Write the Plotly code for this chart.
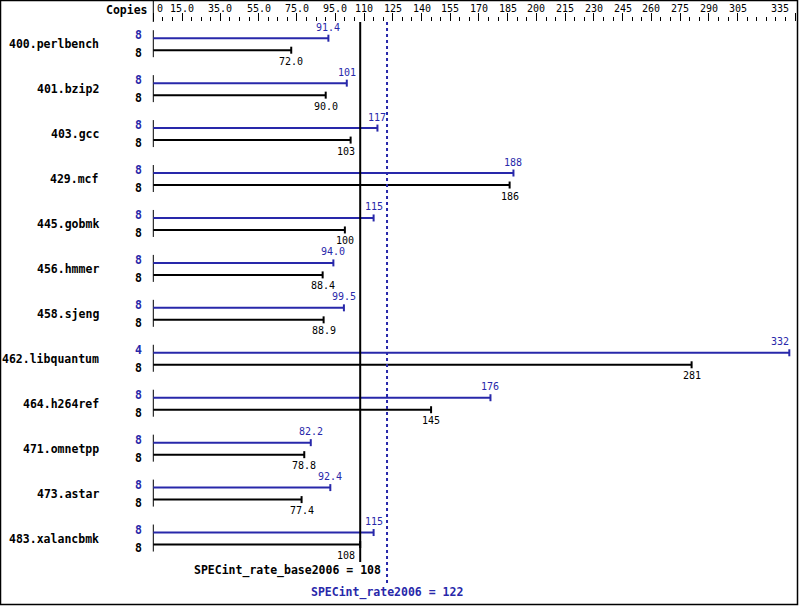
import plotly.graph_objects as go

# ---------------- data ----------------
benchmarks = ["400.perlbench", "401.bzip2", "403.gcc", "429.mcf", "445.gobmk",
              "456.hmmer", "458.sjeng", "462.libquantum", "464.h264ref",
              "471.omnetpp", "473.astar", "483.xalancbmk"]
peak_values = [91.4, 101, 117, 188, 115, 94.0, 99.5, 332, 176, 82.2, 92.4, 115]
base_values = [72.0, 90.0, 103, 186, 100, 88.4, 88.9, 281, 145, 78.8, 77.4, 108]
peak_copies = [8, 8, 8, 8, 8, 8, 8, 4, 8, 8, 8, 8]
base_copies = [8, 8, 8, 8, 8, 8, 8, 8, 8, 8, 8, 8]
tick_values = [0, 15, 35, 55, 75, 95, 110, 125, 140, 155, 170, 185, 200, 215,
               230, 245, 260, 275, 290, 305, 335]
tick_labels = ["0", "15.0", "35.0", "55.0", "75.0", "95.0", "110", "125", "140",
               "155", "170", "185", "200", "215", "230", "245", "260", "275",
               "290", "305", "335"]
minor_tick_values = list(range(5, 335, 5))
base_score = 108
peak_score = 122
base_label = "SPECint_rate_base2006 = 108"
peak_label = "SPECint_rate2006 = 122"

# ---------------- layout constants ----------------
W, H = 799, 606
TOP = 22
PX_PER_UNIT = 1.9157
X0_PX = 153.3
XMIN = -X0_PX / PX_PER_UNIT
XMAX = XMIN + W / PX_PER_UNIT
ROW_MID0 = 44.2
ROW_STEP = 44.94
HALF_GAP = 6.0
CAP = 3.5
BLUE = "#2828aa"
BLACK = "#000000"
MONO = "DejaVu Sans Mono"
CHAR_W = 6.0


def ypaper(py):
    return (H - py) / (H - TOP)


def xpaper(px):
    return px / W


def to_px(v):
    return X0_PX + v * PX_PER_UNIT


def fmt(v):
    return "%.1f" % v if v < 100 else "%d" % round(v)


n = len(benchmarks)
mids = [ROW_MID0 + i * ROW_STEP for i in range(n)]
peak_y = [m - HALF_GAP for m in mids]
base_y = [m + HALF_GAP for m in mids]

fig = go.Figure()


def segs(pairs):
    xs, ys = [], []
    for (xa, ya, xb, yb) in pairs:
        xs += [xa, xb, None]
        ys += [ya, yb, None]
    return xs, ys


# zero lines per row
xs, ys = segs([(0, peak_y[i] - 8, 0, base_y[i] + 7) for i in range(n)])
fig.add_trace(go.Scatter(x=xs, y=ys, mode="lines", line=dict(color=BLACK, width=1),
                         hoverinfo="skip", showlegend=False))

for vals, ypos, col in [(peak_values, peak_y, BLUE), (base_values, base_y, BLACK)]:
    xs, ys = segs([(0, ypos[i], vals[i], ypos[i]) for i in range(n)])
    fig.add_trace(go.Scatter(x=xs, y=ys, mode="lines", line=dict(color=col, width=2),
                             hoverinfo="skip", showlegend=False))
    xs, ys = segs([(vals[i], ypos[i] - CAP, vals[i], ypos[i] + CAP) for i in range(n)])
    fig.add_trace(go.Scatter(x=xs, y=ys, mode="lines", line=dict(color=col, width=2),
                             hoverinfo="skip", showlegend=False))

# score lines
fig.add_trace(go.Scatter(x=[base_score, base_score], y=[TOP, 562], mode="lines",
                         line=dict(color=BLACK, width=2), hoverinfo="skip", showlegend=False))
fig.add_trace(go.Scatter(x=[peak_score, peak_score], y=[TOP, 583], mode="lines",
                         line=dict(color=BLUE, width=2, dash="dot"), hoverinfo="skip",
                         showlegend=False))

ann = []
small = dict(family=MONO, size=10)
bold = dict(family=MONO, size=11.5)

for i in range(n):
    # benchmark names
    ann.append(dict(x=0, y=mids[i], xref="x", yref="y", text="<b>%s</b>" % benchmarks[i],
                    xanchor="right", yanchor="middle", xshift=-52, showarrow=False,
                    font=dict(bold, color=BLACK)))
    # copies
    ann.append(dict(x=0, y=peak_y[i] - 3, xref="x", yref="y", text="<b>%d</b>" % peak_copies[i],
                    xanchor="center", yanchor="middle", xshift=-15, showarrow=False,
                    font=dict(bold, color=BLUE)))
    ann.append(dict(x=0, y=base_y[i] + 3, xref="x", yref="y", text="<b>%d</b>" % base_copies[i],
                    xanchor="center", yanchor="middle", xshift=-15, showarrow=False,
                    font=dict(bold, color=BLACK)))
    # value labels
    for v, yy, col, is_base in [(peak_values[i], peak_y[i] - 11, BLUE, False),
                                (base_values[i], base_y[i] + 11, BLACK, True)]:
        txt = fmt(v)
        half = len(txt) * CHAR_W / 2
        cx = to_px(v)
        anchor, shift = "center", 0
        if cx + half > W - 6:
            anchor, shift = "right", 2
        elif is_base and cx - half < to_px(base_score) + 1 and cx + half > to_px(base_score) - 1:
            # keep the label clear of the base score line
            anchor, shift = "right", (to_px(base_score) - 3) - cx
        ann.append(dict(x=v, y=yy, xref="x", yref="y", text=txt, xanchor=anchor,
                        yanchor="middle", showarrow=False, font=dict(small, color=col),
                        xshift=shift))

# tick labels
for j, (tv, tl) in enumerate(zip(tick_values, tick_labels)):
    if j == 0:
        anchor, shift = "left", 2
    elif j == len(tick_values) - 1:
        anchor, shift = "right", -4
    else:
        anchor, shift = "center", 0
    ann.append(dict(x=tv, y=ypaper(8), xref="x", yref="paper", text=tl, xanchor=anchor,
                    yanchor="middle", xshift=shift, showarrow=False,
                    font=dict(small, color=BLACK)))

ann.append(dict(x=0, y=ypaper(10), xref="x", yref="paper", text="<b>Copies</b>",
                xanchor="right", yanchor="middle", xshift=-3, showarrow=False,
                font=dict(bold, color=BLACK)))

# score labels
ann.append(dict(x=base_score, y=570, xref="x", yref="y", text="<b>%s</b>" % base_label,
                xanchor="right", yanchor="middle", xshift=23, showarrow=False,
                font=dict(bold, color=BLACK)))
ann.append(dict(x=peak_score, y=592, xref="x", yref="y", text="<b>%s</b>" % peak_label,
                xanchor="center", yanchor="middle", showarrow=False,
                font=dict(bold, color=BLUE)))

shapes = [
    # outer border
    dict(type="rect", xref="paper", yref="paper", x0=xpaper(0.5), x1=xpaper(797.5),
         y0=ypaper(604.5), y1=ypaper(0.5), line=dict(color=BLACK, width=1.5), layer="above"),
    # axis line at zero through the tick band
    dict(type="line", xref="paper", yref="paper", x0=xpaper(X0_PX), x1=xpaper(X0_PX),
         y0=ypaper(TOP), y1=ypaper(0), line=dict(color=BLACK, width=1)),
]

fig.update_layout(
    width=W, height=H,
    margin=dict(l=0, r=0, t=TOP, b=0, pad=0),
    paper_bgcolor="white", plot_bgcolor="white",
    showlegend=False,
    annotations=ann, shapes=shapes,
    xaxis=dict(range=[XMIN, XMAX], side="top", showgrid=False, zeroline=False,
               showline=False, ticks="outside", ticklen=8, tickwidth=1, tickcolor=BLACK,
               tickmode="array", tickvals=tick_values, showticklabels=False,
               automargin=False, fixedrange=True,
               minor=dict(tickmode="array", tickvals=minor_tick_values, ticks="outside",
                          ticklen=4, tickwidth=1, tickcolor=BLACK, showgrid=False)),
    yaxis=dict(range=[H, TOP], visible=False, showgrid=False, zeroline=False,
               fixedrange=True, automargin=False),
)

fig.write_html("out.html", config={"displayModeBar": False},
               post_script="document.body.style.margin='0';document.body.style.overflow='hidden';")
